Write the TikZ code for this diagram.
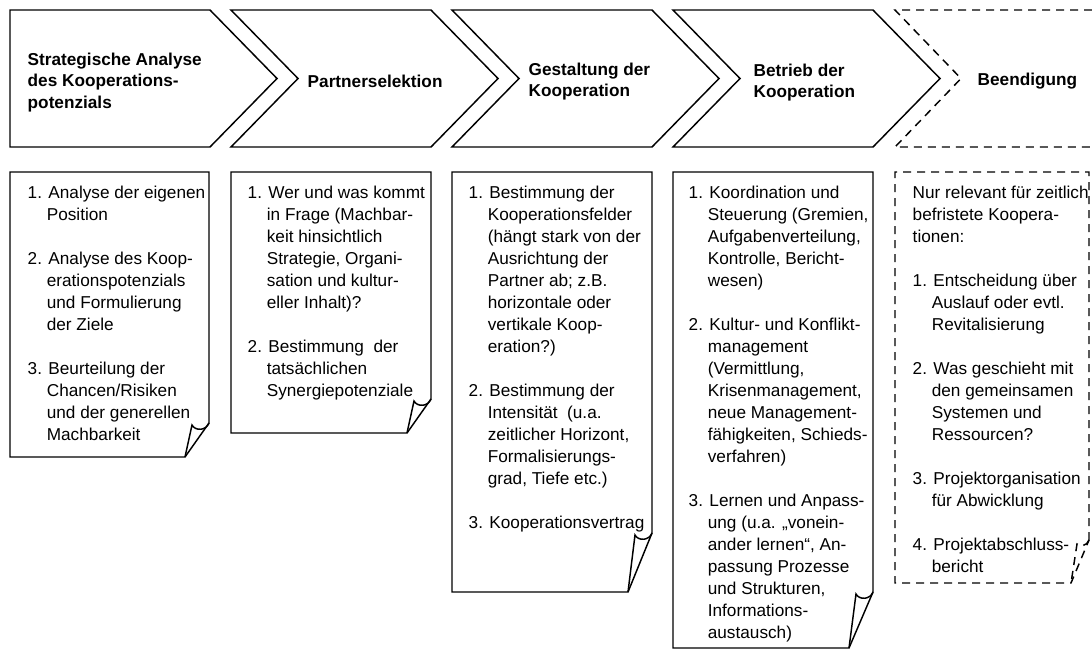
\documentclass[tikz,border=0pt]{standalone}
\usepackage{fontspec}
\setmainfont{Liberation Sans}
\newcommand{\ind}{\hphantom{1.\ }}

\begin{document}
\begin{tikzpicture}[x=0.75pt,y=-0.75pt,line width=1.1pt,
	endphase/.style={dashed,dash pattern=on 6pt off 4.5pt},
	head/.style={anchor=north west,inner sep=0pt,align=left,font=\fontsize{12.9}{16.3}\selectfont\bfseries},
	body/.style={anchor=north west,inner sep=0pt,align=left,font=\fontsize{12.9}{16.5}\selectfont}]
	\useasboundingbox (0,0) rectangle (1092,651);
	% phases
	\draw (10,10) -- (210,10) -- (277,78.5) -- (210,147) -- (10,147) -- cycle;
	\foreach \x in {231,452,673}
	\draw (\x,10) -- (\x+200,10) -- (\x+267,78.5) -- (\x+200,147) -- (\x,147) -- (\x+67,78.5) -- cycle;
	\draw[endphase] (1092,10) -- (895,10) -- (961,78.5) -- (895,147) -- (1092,147);
	\node[head] (h1) at (27,52) {Strategische Analyse\\des Kooperations-\\potenzials};
	\node[head] (h2) at (307,74) {Partnerselektion};
	\node[head] (h3) at (528,62) {Gestaltung der\\Kooperation};
	\node[head] (h4) at (753,63) {Betrieb der\\Kooperation};
	\node[head] (h5) at (977,72) {Beendigung};
	% boxes with folded corner
	\foreach \l/\r/\b/\h in {10/209/457/34, 231/431/433/34, 452/652/592/59, 673/873/648/56}{
		\draw (\r,\b-\h) -- (\r,172) -- (\l,172) -- (\l,\b) -- (\r-24,\b) -- cycle;
		\draw (\r,\b-\h) .. controls (\r-3,\b-\h+8) and (\r-14,\b-\h+8) .. (\r-17,\b-\h+2) -- (\r-24,\b);
	}
	\draw[endphase] (1089,540) -- (1089,172) -- (895,172) -- (895,583) -- (1071,583) -- cycle;
	\draw[endphase] (1089,540) .. controls (1087,546) and (1080,547) .. (1077,544) -- (1071,583);
	\node[body] (b1) at (27,185) {1. Analyse der eigenen\\\ind Position\\[16.5pt]
		2. Analyse des Koop-\\\ind erationspotenzials\\\ind und Formulierung\\\ind der Ziele\\[16.5pt]
		3. Beurteilung der\\\ind Chancen/Risiken\\\ind und der generellen\\\ind Machbarkeit};
	\node[body] (b2) at (247,185) {1. Wer und was kommt\\\ind in Frage (Machbar-\\\ind keit hinsichtlich\\\ind Strategie, Organi-\\\ind sation und kultur-\\\ind eller Inhalt)?\\[16.5pt]
		2. Bestimmung~ der\\\ind tatsächlichen\\\ind Synergiepotenziale};
	\node[body] (b3) at (468,185) {1. Bestimmung der\\\ind Kooperationsfelder\\\ind (hängt stark von der\\\ind Ausrichtung der\\\ind Partner ab; z.B.\\\ind horizontale oder\\\ind vertikale Koop-\\\ind eration?)\\[16.5pt]
		2. Bestimmung der\\\ind Intensität~ (u.a.\\\ind zeitlicher Horizont,\\\ind Formalisierungs-\\\ind grad, Tiefe etc.)\\[16.5pt]
		3. Kooperationsvertrag};
	\node[body] (b4) at (688,185) {1. Koordination und\\\ind Steuerung (Gremien,\\\ind Aufgabenverteilung,\\\ind Kontrolle, Bericht-\\\ind wesen)\\[16.5pt]
		2. Kultur- und Konflikt-\\\ind management\\\ind (Vermittlung,\\\ind Krisenmanagement,\\\ind neue Management-\\\ind fähigkeiten, Schieds-\\\ind verfahren)\\[16.5pt]
		3. Lernen und Anpass-\\\ind ung (u.a. „vonein-\\\ind ander lernen“, An-\\\ind passung Prozesse\\\ind und Strukturen,\\\ind Informations-\\\ind austausch)};
	\node[body] (b5) at (912,185) {Nur relevant für zeitlich\\befristete Koopera-\\tionen:\\[16.5pt]
		1. Entscheidung über\\\ind Auslauf oder evtl.\\\ind Revitalisierung\\[16.5pt]
		2. Was geschieht mit\\\ind den gemeinsamen\\\ind Systemen und\\\ind Ressourcen?\\[16.5pt]
		3. Projektorganisation\\\ind für Abwicklung\\[16.5pt]
		4. Projektabschluss-\\\ind bericht};
\end{tikzpicture}
\end{document}
